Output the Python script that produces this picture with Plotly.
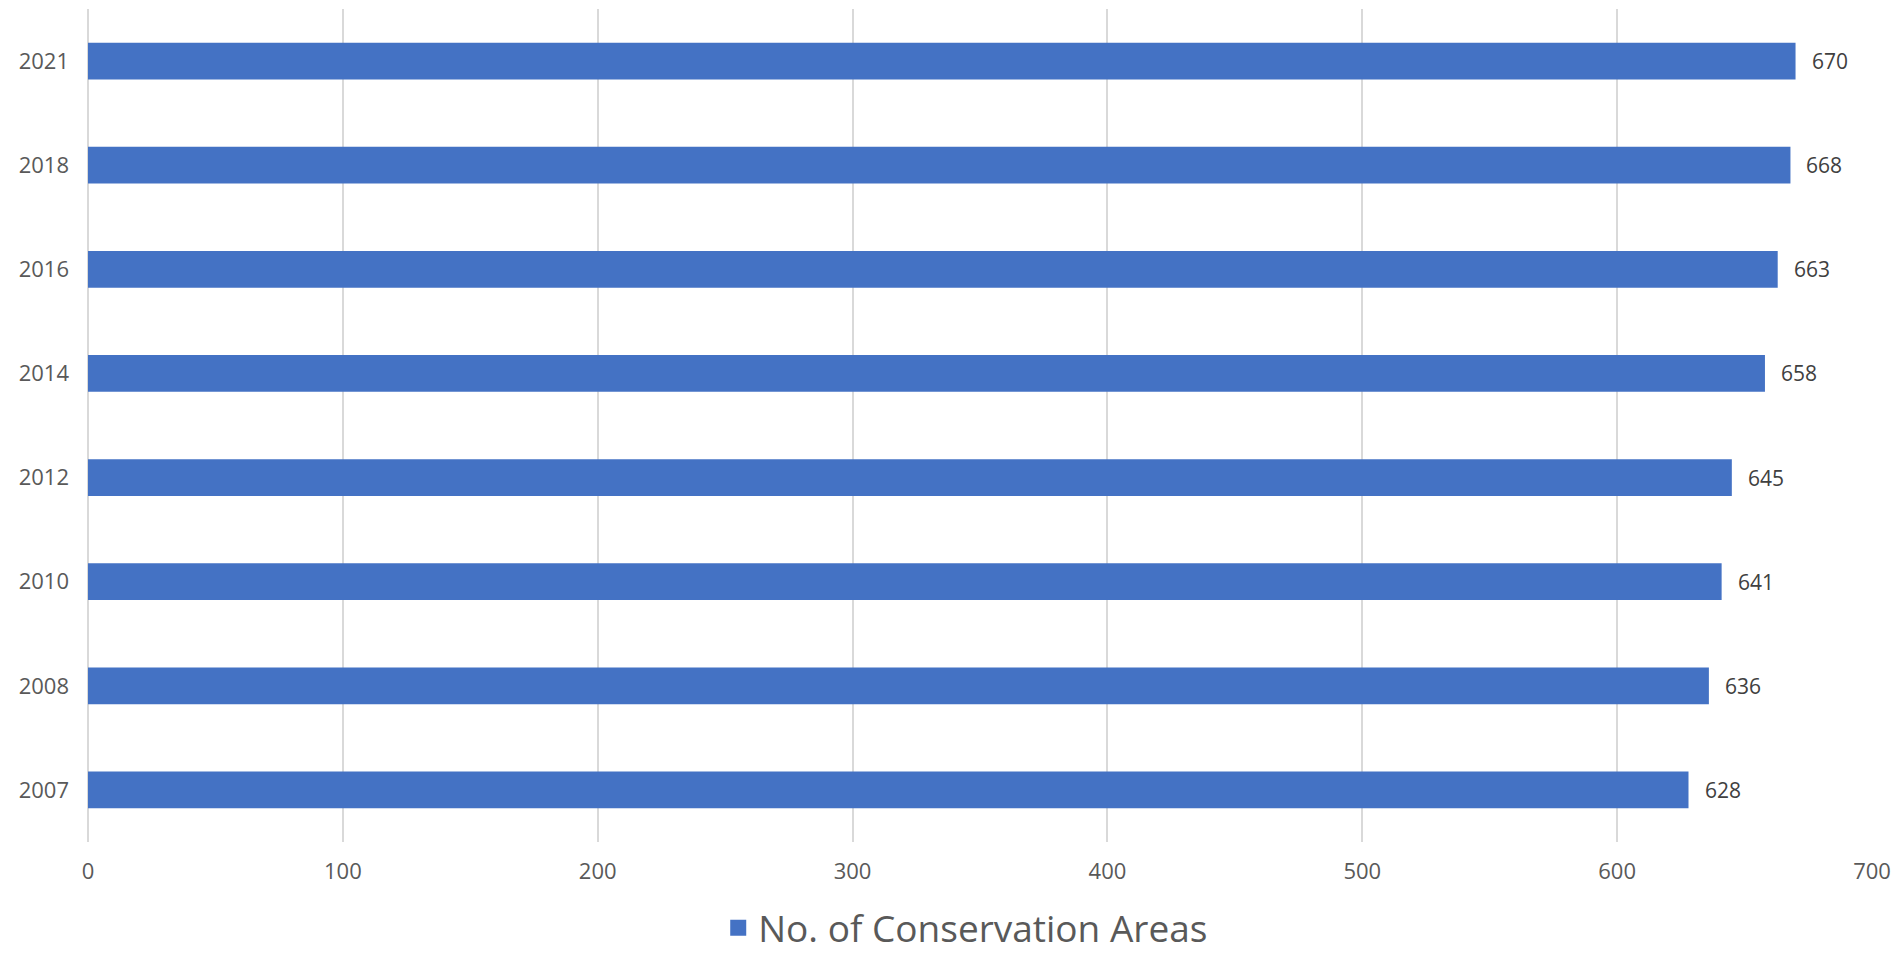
import plotly.graph_objects as go

years = ["2007", "2008", "2010", "2012", "2014", "2016", "2018", "2021"]
areas = [628, 636, 641, 645, 658, 663, 668, 670]
x_ticks = [0, 100, 200, 300, 400, 500, 600, 700]
series_name = "No. of Conservation Areas"

BAR_COLOR = "#4472C4"
TEXT_COLOR = "#595959"
GRID_COLOR = "#D9D9D9"
FONT = "Open Sans, Lato, sans-serif"

fig = go.Figure()
fig.add_trace(go.Bar(
    y=years, x=areas, orientation="h",
    marker=dict(color=BAR_COLOR, line=dict(width=0)),
    showlegend=False, hoverinfo="x+y",
))
# legend entry
fig.add_trace(go.Scatter(
    x=[None], y=[None], mode="markers", name=series_name,
    marker=dict(symbol="square", size=25, color=BAR_COLOR),
    hoverinfo="skip",
))

for i, v in enumerate(areas):
    fig.add_annotation(
        x=v, y=i, text=str(v), showarrow=False,
        xanchor="left", yanchor="middle", xshift=14,
        font=dict(family=FONT, size=21, color="#404040"),
    )

fig.update_layout(
    width=1897, height=955,
    margin=dict(l=88, r=25, t=9, b=113, autoexpand=False),
    paper_bgcolor="white", plot_bgcolor="white",
    bargap=0.648,
    font=dict(family=FONT, size=21, color=TEXT_COLOR),
    legend=dict(
        orientation="h", x=0.492, xanchor="center",
        yref="container", y=0.028, yanchor="middle",
        font=dict(family=FONT, size=37, color=TEXT_COLOR),
    ),
    xaxis=dict(
        range=[0, 700], tickvals=x_ticks, ticktext=[str(t) for t in x_ticks],
        showgrid=True, gridcolor=GRID_COLOR, gridwidth=1.5,
        zeroline=True, zerolinecolor=GRID_COLOR, zerolinewidth=1.5,
        showline=False, ticks="", ticklabelstandoff=14,
        tickfont=dict(family=FONT, size=22, color=TEXT_COLOR),
        fixedrange=True, automargin=False,
    ),
    yaxis=dict(
        type="category", categoryorder="array", categoryarray=years,
        range=[-0.5, len(years) - 0.5], autorange=False,
        showgrid=False, showline=False, zeroline=False, ticks="",
        ticklabelstandoff=18,
        tickfont=dict(family=FONT, size=22, color=TEXT_COLOR),
        fixedrange=True, automargin=False,
    ),
)

fig.write_html("out.html")
